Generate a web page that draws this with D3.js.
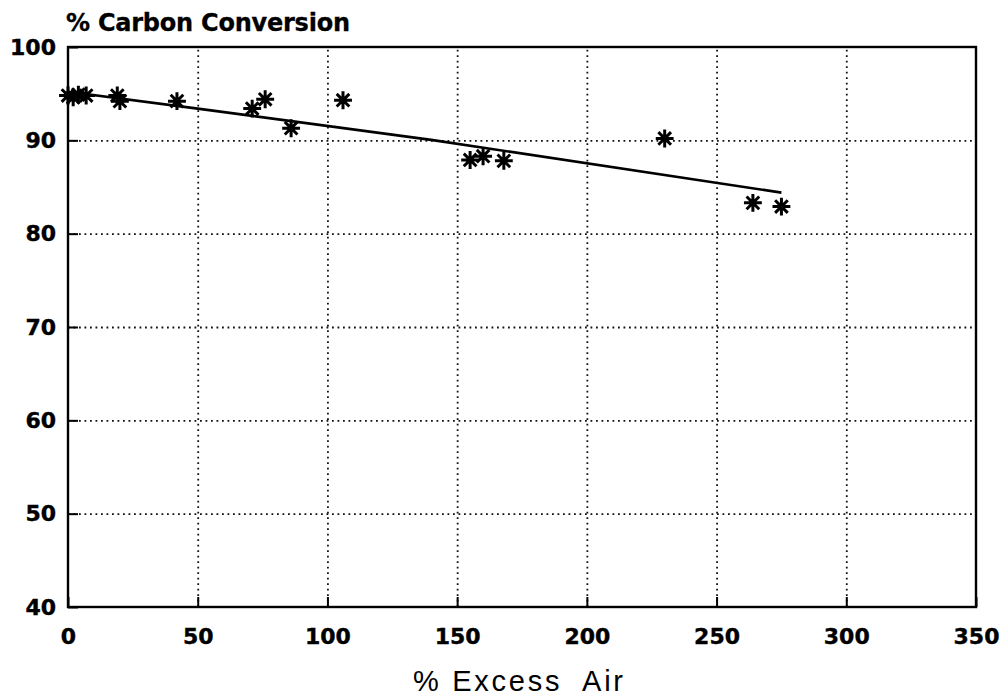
<!DOCTYPE html>
<html>
<head>
<meta charset="utf-8">
<script src="https://cdn.jsdelivr.net/npm/d3@7"></script>
<style>
  html, body { margin: 0; padding: 0; background: #fff; }
  svg { display: block; }
</style>
</head>
<body>
<svg id="chart"></svg>
<script>
const excessAir = [0, 2, 4, 7, 19, 20, 42, 71, 76, 86, 106, 155, 160, 168, 230, 264, 275];
const conversion = [94.8, 94.6, 94.9, 94.8, 94.8, 94.2, 94.2, 93.4, 94.4, 91.3, 94.3, 87.9, 88.3, 87.8, 90.2, 83.3, 82.9];

// fitted line
const fitX = [0, 50, 140, 275];
const fitY = [95.2, 93.4, 90.05, 84.4];

const xTicks = [0, 50, 100, 150, 200, 250, 300, 350];
const yTicks = [40, 50, 60, 70, 80, 90, 100];

const yTitle = "% Carbon Conversion";
const xTitle = "% Excess  Air";

function Start() {
  const width = 1008;
  const height = 700;
  const margin = { top: 47, right: 32, bottom: 93, left: 68 };
  const innerW = width - margin.left - margin.right;
  const innerH = height - margin.top - margin.bottom;

  const x = d3.scaleLinear().domain([0, 350]).range([0, innerW]);
  const y = d3.scaleLinear().domain([40, 100]).range([innerH, 0]);

  const svg = d3
    .select("#chart")
    .attr("width", width)
    .attr("height", height)
    .attr("viewBox", [0, 0, width, height]);

  const g = svg.append("g").attr("transform", `translate(${margin.left},${margin.top})`);

  // dotted grid
  g.append("g")
    .attr("class", "grid")
    .attr("transform", `translate(0,${innerH})`)
    .call(d3.axisBottom(x).tickValues(xTicks.slice(1, -1)).tickSize(-innerH).tickFormat(""))
    .call((s) => s.select(".domain").remove());
  g.append("g")
    .attr("class", "grid")
    .call(d3.axisLeft(y).tickValues(yTicks.slice(1, -1)).tickSize(-innerW).tickFormat(""))
    .call((s) => s.select(".domain").remove());
  g.selectAll(".grid line")
    .attr("stroke", "#111")
    .attr("stroke-width", 1.8)
    .attr("stroke-dasharray", "1.8,3.7");

  // axes with short inward ticks
  const xAxis = g.append("g")
    .attr("transform", `translate(0,${innerH})`)
    .call(d3.axisBottom(x).tickValues(xTicks).tickSize(-10).tickPadding(21).tickFormat(d3.format("d")));
  const yAxis = g.append("g")
    .call(d3.axisLeft(y).tickValues(yTicks).tickSize(-10).tickPadding(12).tickFormat(d3.format("d")));

  [xAxis, yAxis].forEach((a) => {
    a.attr("font-family", "'DejaVu Sans', sans-serif").attr("font-size", 22);
    a.select(".domain").remove();
    a.selectAll("line").attr("stroke", "#000").attr("stroke-width", 2);
    a.selectAll("text")
      .attr("fill", "#000")
      .attr("font-weight", "bold")
      .attr("stroke", "#000")
      .attr("stroke-width", 0.4);
  });

  // frame
  g.append("rect")
    .attr("width", innerW)
    .attr("height", innerH)
    .attr("fill", "none")
    .attr("stroke", "#000")
    .attr("stroke-width", 2.4);

  // fit line
  const line = d3.line().x((d) => x(d[0])).y((d) => y(d[1]));
  g.append("path")
    .datum(d3.zip(fitX, fitY))
    .attr("d", line)
    .attr("fill", "none")
    .attr("stroke", "#000")
    .attr("stroke-width", 2.6);

  // eight-armed asterisk marker
  const star = {
    draw(context, size) {
      const r = Math.sqrt(size) / 2;
      const q = r * Math.SQRT1_2;
      context.moveTo(-r, 0); context.lineTo(r, 0);
      context.moveTo(0, -r); context.lineTo(0, r);
      context.moveTo(-q, -q); context.lineTo(q, q);
      context.moveTo(-q, q); context.lineTo(q, -q);
    }
  };
  g.append("g")
    .selectAll("path")
    .data(d3.zip(excessAir, conversion))
    .join("path")
    .attr("transform", (d) => `translate(${x(d[0])},${y(d[1])})`)
    .attr("d", d3.symbol(star, 320))
    .attr("fill", "none")
    .attr("stroke", "#000")
    .attr("stroke-width", 3);

  // titles
  svg.append("text")
    .attr("x", 66)
    .attr("y", 31)
    .attr("textLength", 284)
    .attr("lengthAdjust", "spacing")
    .attr("font-family", "'DejaVu Sans', sans-serif")
    .attr("font-weight", "bold")
    .attr("font-size", 24)
    .attr("stroke", "#000")
    .attr("stroke-width", 0.3)
    .text(yTitle);

  svg.append("text")
    .attr("x", 413)
    .attr("y", 691)
    .attr("textLength", 210)
    .attr("lengthAdjust", "spacing")
    .attr("font-family", "'Liberation Sans', Arial, sans-serif")
    .attr("font-size", 29)
    .style("white-space", "pre")
    .text(xTitle);

  return svg.node();
}
Start();
</script>
</body>
</html>
